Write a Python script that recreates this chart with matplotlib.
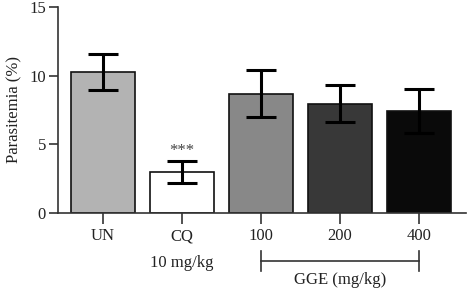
import matplotlib
matplotlib.use("Agg")
import matplotlib.pyplot as plt

categories = ["UN", "CQ", "100", "200", "400"]
values = [10.27, 2.98, 8.68, 7.95, 7.43]
errors = [1.3, 0.8, 1.7, 1.35, 1.63]
colors = ["#b3b3b3", "#ffffff", "#888888", "#383838", "#0a0a0a"]
yticks = [0, 5, 10, 15]

plt.rcParams['font.family'] = ['Liberation Serif', 'DejaVu Serif']

fig = plt.figure(figsize=(4.67, 2.89), dpi=100)
ax = fig.add_axes([0.124, 0.263, 0.874, 0.713])
x = list(range(len(categories)))
ax.bar(x, values, width=0.81, color=colors, edgecolor="#111111", linewidth=1.2, zorder=2)
ax.errorbar(x, values, yerr=errors, fmt="none", ecolor="black", elinewidth=2.2,
            capsize=11, capthick=2.2, zorder=3)

ax.set_xlim(-0.57, 4.595)
ax.set_ylim(0, 15)
ax.set_yticks(yticks)
ax.set_xticks(x)
ax.set_xticklabels(categories, fontsize=12)
ax.tick_params(axis="y", labelsize=12, length=6.5, width=1.2, colors="#333333", labelcolor="#222222", pad=2)
ax.tick_params(axis="x", length=8, width=1.2, colors="#333333", labelcolor="#222222", pad=3)
for s in ["top", "right"]:
    ax.spines[s].set_visible(False)
for s in ["left", "bottom"]:
    ax.spines[s].set_linewidth(1.2)
    ax.spines[s].set_color("#333333")
ax.set_ylabel("Parasitemia (%)", fontsize=12, color="#222222", labelpad=5)

ax.text(1, values[1] + errors[1] + 0.15, "***", ha="center", va="bottom", fontsize=12, color="#444444")

# annotations below axis
tr = ax.get_xaxis_transform()
ax.text(1, -0.243, "10 mg/kg", transform=tr, ha="center", va="center", fontsize=12, color="#222222")
yb = -0.233
ax.plot([2, 4], [yb, yb], transform=tr, color="#333333", lw=1.2, clip_on=False)
ax.plot([2, 2], [yb - 0.049, yb + 0.049], transform=tr, color="#333333", lw=1.2, clip_on=False)
ax.plot([4, 4], [yb - 0.049, yb + 0.049], transform=tr, color="#333333", lw=1.2, clip_on=False)
ax.text(3, -0.325, "GGE (mg/kg)", transform=tr, ha="center", va="center", fontsize=12, color="#222222")

fig.savefig("out.png", dpi=100)
